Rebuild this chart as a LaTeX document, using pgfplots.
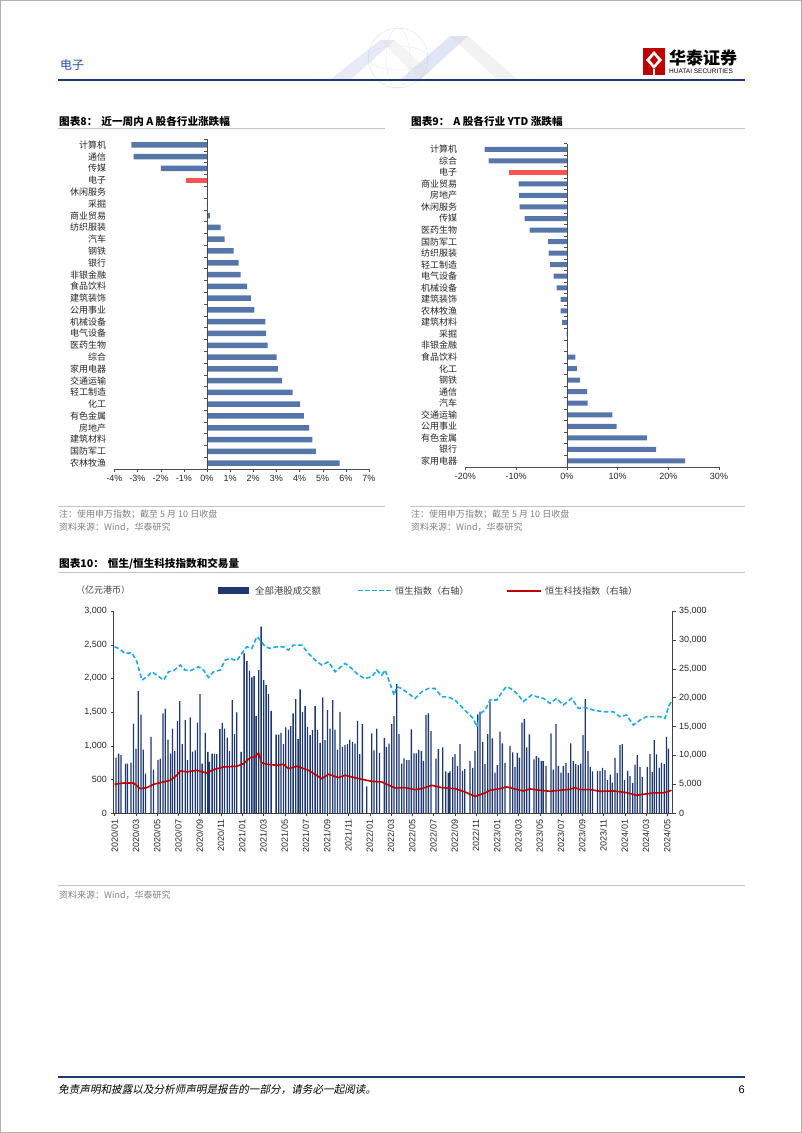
\documentclass[border=0pt]{standalone}
\usepackage{fontspec}
\usepackage{pgfplots}
\pgfplotsset{compat=1.18}
\usepackage{pgfplotstable}
\setmainfont{Liberation Sans}
\newfontfamily\cjk{Noto Sans CJK SC}
\newfontfamily\cjkit{Noto Sans CJK SC}[FakeSlant=0.2]
\definecolor{barblue}{RGB}{86,118,170}
\definecolor{barred}{RGB}{250,85,85}
\definecolor{navy}{RGB}{31,56,112}
\definecolor{hsi}{RGB}{30,170,225}
\definecolor{hst}{RGB}{192,0,0}
\definecolor{notegray}{RGB}{128,128,128}
\definecolor{rulegray}{RGB}{190,196,205}
\definecolor{hdrblue}{RGB}{31,78,154}

\pgfplotstableread{
m v
0.13 823
0.38 883
0.60 858
1.03 734
1.22 734
1.54 749
1.79 1329
2.01 957
2.23 1810
2.48 1463
2.70 942
2.92 585
3.42 1131
3.67 645
4.08 784
4.29 808
4.55 1478
4.76 1552
5.02 1091
5.27 883
5.45 1255
5.67 918
5.92 1364
6.14 1662
6.36 1022
6.65 1379
6.87 784
7.12 1419
7.34 913
7.59 932
7.81 1344
8.03 1766
8.24 734
8.53 1190
8.78 908
8.93 759
9.18 883
9.40 873
9.62 873
9.91 1245
10.13 1339
10.34 1255
10.60 1121
10.82 923
11.07 1676
11.29 1171
11.50 1493
11.91 908
12.19 2371
12.45 2257
12.70 2113
12.92 2014
13.13 2034
13.32 1438
13.57 2123
13.79 2768
14.04 1974
14.26 1900
14.48 1766
14.73 1518
15.20 1166
15.45 1166
15.67 1190
15.89 1022
16.11 1270
16.36 1240
16.58 1290
16.80 1478
17.05 1691
17.27 1096
17.46 1835
17.68 1503
17.93 1587
18.15 1280
18.40 1156
18.62 1230
18.87 1587
19.09 1230
19.34 1042
19.59 1716
19.81 1081
20.03 1528
20.28 1255
20.53 1676
20.75 1240
20.97 942
21.22 1503
21.44 982
21.69 1007
21.91 1022
22.13 1091
22.38 1057
22.63 1032
22.85 1369
23.07 873
23.32 1319
23.73 397
24.20 1181
24.42 932
24.67 1255
24.92 893
25.39 1116
25.58 982
25.83 1032
26.08 1319
26.30 1438
26.55 1915
26.77 1171
27.02 735
27.24 810
27.49 784
27.71 785
27.93 1241
28.18 884
28.40 884
28.62 943
28.87 918
29.06 775
29.31 1455
29.53 1480
29.78 1216
30.25 809
30.47 948
30.88 973
31.16 620
31.41 596
31.57 620
31.82 834
32.04 874
32.26 700
32.51 1023
32.73 625
32.95 650
33.45 775
33.70 670
33.92 923
34.17 1465
34.39 1505
34.64 1058
34.86 725
35.11 1172
35.33 1653
35.55 1107
35.80 601
36.02 710
36.27 1207
36.49 1033
36.74 745
37.21 998
37.46 899
37.68 685
37.90 894
38.09 824
38.34 1341
38.56 1395
38.78 973
39.03 1167
39.47 795
39.69 844
39.91 824
40.16 775
40.34 770
40.60 700
41.07 1182
41.29 646
41.54 1321
41.76 700
42.01 601
42.23 695
42.48 745
42.70 596
42.92 1033
43.17 770
43.39 725
43.64 710
43.86 735
44.08 1157
44.29 1693
44.55 923
44.76 685
44.98 620
45.45 625
45.67 625
45.92 670
46.14 636
46.39 487
46.65 571
46.83 452
47.08 819
47.30 596
47.55 1008
47.77 1023
47.99 487
48.28 625
48.50 546
48.75 447
48.97 720
49.19 859
49.44 685
49.66 536
50.13 685
50.38 874
50.60 611
50.78 1082
51.00 869
51.25 675
51.47 745
51.72 725
51.94 1132
52.13 958
}\vol

\pgfplotstableread{
m v
0 28810
0.38 28520
1.00 27650
1.63 27770
2.10 26210
2.57 23020
3.04 23600
3.51 24470
3.98 23890
4.61 23020
5.08 24470
5.55 24640
6.18 25630
6.65 24760
7.12 24640
7.90 25340
8.37 24760
8.84 23490
9.31 24470
9.94 24760
10.41 26500
10.88 26790
11.50 26380
11.97 27650
12.45 28810
12.92 28520
13.39 30550
13.70 29970
14.17 28810
14.64 28520
15.27 28810
15.89 28810
16.36 28230
16.83 29100
17.62 29100
18.24 27650
18.87 26500
19.50 25630
20.13 26210
20.75 24470
21.69 25920
22.32 25050
22.95 23890
23.57 23310
24.20 23600
24.67 24760
25.14 23890
25.45 24760
25.92 22450
26.30 20420
26.55 21870
27.02 21580
27.65 20710
28.28 19840
28.90 21000
29.53 21580
30.16 21580
30.78 20130
31.41 20130
32.04 19550
32.66 18390
33.29 17230
33.76 16360
34.08 14930
34.39 17230
34.86 17810
35.33 19580
35.96 19580
36.58 21300
36.90 21900
37.52 21300
37.99 20450
38.46 19300
39.25 20450
39.72 20160
40.34 19870
40.97 19000
41.60 19870
42.23 18710
43.01 19870
43.64 18130
44.26 18300
45.05 17840
45.99 17550
46.93 17550
47.55 16690
48.18 16980
48.81 15240
49.44 16100
50.06 16690
51.32 16690
51.79 16400
52.19 18710
52.41 19300
}\hsi

\pgfplotstableread{
m v
0 4975
0.85 5200
1.79 5200
2.41 4220
3.04 4400
3.67 4975
4.61 5380
5.24 5670
5.86 6540
6.18 7290
6.80 7120
7.74 7400
8.68 6940
9.31 7520
10.25 7980
11.50 8100
12.13 8560
12.76 9600
13.23 9720
13.54 10410
13.86 8680
14.33 8450
15.27 8270
15.89 8450
16.36 7690
17.15 8100
18.24 7400
19.50 5960
20.13 6710
21.07 6130
21.69 6540
22.95 5960
24.20 5490
25.14 5380
26.39 4340
27.34 4400
28.28 4050
28.90 4220
29.84 4800
30.78 4400
32.04 4220
32.98 3640
33.92 2890
34.86 3470
35.33 3940
36.27 4230
36.90 4520
37.52 4230
38.46 3820
39.09 4170
40.03 3940
40.97 3770
41.91 3940
42.85 4110
43.32 4400
43.79 4060
44.73 4060
45.67 3770
46.93 3820
48.18 3530
49.12 3070
49.75 3240
50.69 3480
51.63 3480
51.94 3650
52.41 3940
}\hst

\begin{document}
\begin{tikzpicture}
\useasboundingbox (0,0) rectangle (802pt,-1133pt);
\draw[gray!60, line width=1pt] (0.5pt,-0.5pt) rectangle (801.5pt,-1132.5pt);

% ---------- header ----------
\begin{scope}[opacity=0.35]
\draw[gray!60, line width=0.5pt] (398pt,-58pt) circle (30pt);
\draw[gray!50, line width=0.4pt] (398pt,-58pt) ellipse (30pt and 12pt);
\draw[gray!50, line width=0.4pt] (398pt,-58pt) ellipse (12pt and 30pt);
\fill[cyan!30!blue!25] (330pt,-80pt) -- (380pt,-40pt) -- (395pt,-40pt) -- (350pt,-80pt) -- cycle;
\fill[cyan!40!blue!35] (400pt,-80pt) -- (450pt,-36pt) -- (468pt,-36pt) -- (420pt,-80pt) -- cycle;
\fill[gray!30] (450pt,-36pt) -- (468pt,-36pt) -- (518pt,-80pt) -- (498pt,-80pt) -- cycle;
\fill[gray!25] (380pt,-40pt) -- (395pt,-40pt) -- (430pt,-72pt) -- (418pt,-78pt) -- cycle;
\end{scope}
\node[anchor=west, text=hdrblue, inner sep=0pt] at (60pt,-65pt) {\cjk\fontsize{12}{14}\selectfont 电子};
\fill[red!75!black] (643pt,-48pt) rectangle (665pt,-75pt);
\fill[white] (654pt,-51pt) -- (662pt,-60pt) -- (654pt,-69pt) -- (646pt,-60pt) -- cycle;
\fill[red!75!black] (654pt,-55pt) -- (658pt,-60pt) -- (654pt,-65pt) -- (650pt,-60pt) -- cycle;
\fill[white] (653pt,-69pt) rectangle (655pt,-75pt);
\node[anchor=west, inner sep=0pt] at (669pt,-58pt) {\cjk\bfseries\fontsize{17}{19}\selectfont 华泰证券};
\node[anchor=west, inner sep=0pt] at (669pt,-71.5pt) {\fontsize{6.5}{7}\selectfont HUATAI SECURITIES};
\draw[navy, line width=2.5pt] (58pt,-80pt) -- (745pt,-80pt);

% ---------- titles and rules ----------
\node[anchor=west, inner sep=0pt] at (59pt,-121pt) {\cjk\bfseries\fontsize{10.6}{12}\selectfont 图表8：\hspace{4pt}近一周内 A 股各行业涨跌幅};
\draw[rulegray, line width=0.8pt] (58pt,-128.5pt) -- (385pt,-128.5pt);
\node[anchor=west, inner sep=0pt] at (411pt,-121pt) {\cjk\bfseries\fontsize{10.6}{12}\selectfont 图表9：\hspace{4pt}A 股各行业 YTD 涨跌幅};
\draw[rulegray, line width=0.8pt] (410pt,-128.5pt) -- (745pt,-128.5pt);

\draw[rulegray, line width=0.8pt] (58pt,-506.5pt) -- (385pt,-506.5pt);
\draw[rulegray, line width=0.8pt] (410pt,-506.5pt) -- (745pt,-506.5pt);
\node[anchor=west, inner sep=0pt, text=notegray] at (59pt,-514pt) {\cjk\fontsize{9}{10}\selectfont 注：使用申万指数；截至 5 月 10 日收盘};
\node[anchor=west, inner sep=0pt, text=notegray] at (59pt,-527.5pt) {\cjk\fontsize{9}{10}\selectfont 资料来源：Wind，华泰研究};
\node[anchor=west, inner sep=0pt, text=notegray] at (411pt,-514pt) {\cjk\fontsize{9}{10}\selectfont 注：使用申万指数；截至 5 月 10 日收盘};
\node[anchor=west, inner sep=0pt, text=notegray] at (411pt,-527.5pt) {\cjk\fontsize{9}{10}\selectfont 资料来源：Wind，华泰研究};

\node[anchor=west, inner sep=0pt] at (59pt,-564pt) {\cjk\bfseries\fontsize{10.6}{12}\selectfont 图表10：\hspace{4pt}恒生/恒生科技指数和交易量};
\draw[rulegray, line width=0.8pt] (58pt,-572pt) -- (745pt,-572pt);
\draw[rulegray, line width=0.8pt] (58pt,-885pt) -- (745pt,-885pt);
\node[anchor=west, inner sep=0pt, text=notegray] at (59pt,-895pt) {\cjk\fontsize{9}{10}\selectfont 资料来源：Wind，华泰研究};

% legend of chart 10
\node[anchor=west, inner sep=0pt, text=black!75] at (76pt,-590pt) {\cjk\fontsize{9}{10}\selectfont （亿元港币）};
\fill[navy] (218pt,-587pt) rectangle (249pt,-594pt);
\node[anchor=west, inner sep=0pt, text=black!75] at (255pt,-590.5pt) {\cjk\fontsize{9.4}{10}\selectfont 全部港股成交额};
\draw[hsi, line width=1.8pt, dash pattern=on 4.5pt off 2.5pt] (358pt,-590.5pt) -- (392pt,-590.5pt);
\node[anchor=west, inner sep=0pt, text=black!75] at (395pt,-590.5pt) {\cjk\fontsize{9.2}{10}\selectfont 恒生指数（右轴）};
\draw[hst, line width=2pt] (507pt,-590.5pt) -- (541pt,-590.5pt);
\node[anchor=west, inner sep=0pt, text=black!75] at (545pt,-590.5pt) {\cjk\fontsize{9.2}{10}\selectfont 恒生科技指数（右轴）};

% footer
\draw[navy, line width=2pt] (58pt,-1077pt) -- (745pt,-1077pt);
\node[anchor=west, inner sep=0pt] at (58pt,-1090pt) {\cjkit\fontsize{10.6}{11}\selectfont 免责声明和披露以及分析师声明是报告的一部分，请务必一起阅读。};
\node[anchor=east, inner sep=0pt] at (745pt,-1090pt) {\fontsize{11}{12}\selectfont 6};

% ---------- chart 8 ----------
\begin{axis}[
  at={(114.3pt,-469pt)}, anchor=south west,
  scale only axis, width=254.7pt, height=330pt,
  xbar, bar width=5.5pt, bar shift=0pt,
  xmin=-4, xmax=7, xtick={-4,-3,...,7},
  ymin=-0.5, ymax=27.5,
  ytick={0,1,...,27},
  yticklabels={农林牧渔,国防军工,建筑材料,房地产,有色金属,化工,轻工制造,交通运输,家用电器,综合,医药生物,电气设备,机械设备,公用事业,建筑装饰,食品饮料,非银金融,银行,钢铁,汽车,纺织服装,商业贸易,采掘,休闲服务,电子,传媒,通信,计算机},
  axis x line*=bottom, axis y line*=left,
  y axis line style={draw=none}, ytick style={draw=none},
  x axis line style={black!70}, xtick style={black!70},
  tick align=outside, major tick length=3pt,
  /pgf/number format/assume math mode=true,
  xticklabel={\pgfmathprintnumber{\tick}\%},
  xticklabel style={font=\fontsize{9}{10}\selectfont, text=black!85},
  yticklabel style={font=\cjk\fontsize{9}{10}\selectfont, text=black!85, inner sep=0pt, xshift=-5pt},
  clip=false,
]
\addplot[fill=barblue, draw=none, bar shift=0pt] coordinates {
(-3.26,27) (-3.17,26) (-1.99,25) (0,23) (0.02,22) (0.13,21) (0.59,20) (0.76,19) (1.15,18) (1.37,17) (1.46,16) (1.74,15) (1.90,14) (2.05,13) (2.52,12) (2.56,11) (2.62,10) (3.01,9) (3.07,8) (3.24,7) (3.70,6) (4.03,5) (4.19,4) (4.41,3) (4.55,2) (4.71,1) (5.73,0)};
\addplot[fill=barred, draw=none, bar shift=0pt] coordinates {(-0.89,24)};
\draw[black!70] (axis cs:0,-0.5) -- (axis cs:0,27.5);
\pgfplotsinvokeforeach{0,...,28}{\draw[black!70] (axis cs:0,#1-0.5) -- ++(-2.5pt,0pt);}
\end{axis}

% ---------- chart 9 ----------
\begin{axis}[
  at={(465.3pt,-466.7pt)}, anchor=south west,
  scale only axis, width=253.7pt, height=323.2pt,
  xbar, bar width=5pt, bar shift=0pt,
  xmin=-20, xmax=30, xtick={-20,-10,...,30},
  ymin=-0.5, ymax=27.5,
  ytick={0,1,...,27},
  yticklabels={家用电器,银行,有色金属,公用事业,交通运输,汽车,通信,钢铁,化工,食品饮料,非银金融,采掘,建筑材料,农林牧渔,建筑装饰,机械设备,电气设备,轻工制造,纺织服装,国防军工,医药生物,传媒,休闲服务,房地产,商业贸易,电子,综合,计算机},
  axis x line*=bottom, axis y line*=left,
  y axis line style={draw=none}, ytick style={draw=none},
  x axis line style={black!70}, xtick style={black!70},
  tick align=outside, major tick length=3pt,
  /pgf/number format/assume math mode=true,
  xticklabel={\pgfmathprintnumber{\tick}\%},
  xticklabel style={font=\fontsize{9}{10}\selectfont, text=black!85},
  yticklabel style={font=\cjk\fontsize{9}{10}\selectfont, text=black!85, inner sep=0pt, xshift=-5pt},
  clip=false,
]
\addplot[fill=barblue, draw=none, bar shift=0pt] coordinates {
(-16.2,27) (-15.4,26) (-9.5,24) (-9.4,23) (-9.3,22) (-8.3,21) (-7.3,20) (-3.7,19) (-3.6,18) (-3.3,17) (-2.6,16) (-2.0,15) (-1.2,14) (-1.2,13) (-0.9,12) (-0.05,11) (0.2,10) (1.7,9) (2.0,8) (2.6,7) (4.0,6) (4.1,5) (9.0,4) (9.8,3) (15.8,2) (17.6,1) (23.3,0)};
\addplot[fill=barred, draw=none, bar shift=0pt] coordinates {(-11.3,25)};
\draw[black!70] (axis cs:0,-0.5) -- (axis cs:0,27.5);
\pgfplotsinvokeforeach{0,...,28}{\draw[black!70] (axis cs:0,#1-0.5) -- ++(-2.5pt,0pt);}
\end{axis}

% ---------- chart 10 ----------
\begin{axis}[
  at={(113.5pt,-813pt)}, anchor=south west,
  scale only axis, width=559pt, height=202pt,
  xmin=-0.1, xmax=52.5, ymin=0, ymax=3000,
  ytick={0,500,...,3000},
  xtick={0,2,...,52},
  xticklabels={2020/01,2020/03,2020/05,2020/07,2020/09,2020/11,2021/01,2021/03,2021/05,2021/07,2021/09,2021/11,2022/01,2022/03,2022/05,2022/07,2022/09,2022/11,2023/01,2023/03,2023/05,2023/07,2023/09,2023/11,2024/01,2024/03,2024/05},
  axis y line*=left, axis x line*=bottom,
  axis line style={black!75}, tick style={black!75},
  tick align=outside, major tick length=3pt,
  scaled y ticks=false,
  /pgf/number format/assume math mode=true,
  /pgf/number format/1000 sep={,},
  ybar, bar width=1.3pt, bar shift=0pt,
  xticklabel style={font=\fontsize{9}{10}\selectfont, text=black!85, rotate=90, anchor=east},
  yticklabel style={font=\fontsize{9}{10}\selectfont, text=black!85},
]
\addplot[fill=navy, draw=none, bar shift=0pt] table[x=m, y=v] {\vol};
\end{axis}
\begin{axis}[
  at={(113.5pt,-813pt)}, anchor=south west,
  scale only axis, width=559pt, height=202pt,
  xmin=-0.1, xmax=52.5, ymin=0, ymax=35000,
  ytick={0,5000,...,35000},
  axis y line*=right, axis x line=none,
  axis line style={black!75}, tick style={black!75},
  tick align=outside, major tick length=3pt,
  scaled y ticks=false,
  /pgf/number format/assume math mode=true,
  /pgf/number format/1000 sep={,},
  yticklabel style={font=\fontsize{9}{10}\selectfont, text=black!85},
]
\addplot[hsi, line width=1.6pt, dash pattern=on 4.5pt off 2.5pt] table[x=m, y=v] {\hsi};
\addplot[hst, line width=1.6pt] table[x=m, y=v] {\hst};
\end{axis}
\end{tikzpicture}
\end{document}
